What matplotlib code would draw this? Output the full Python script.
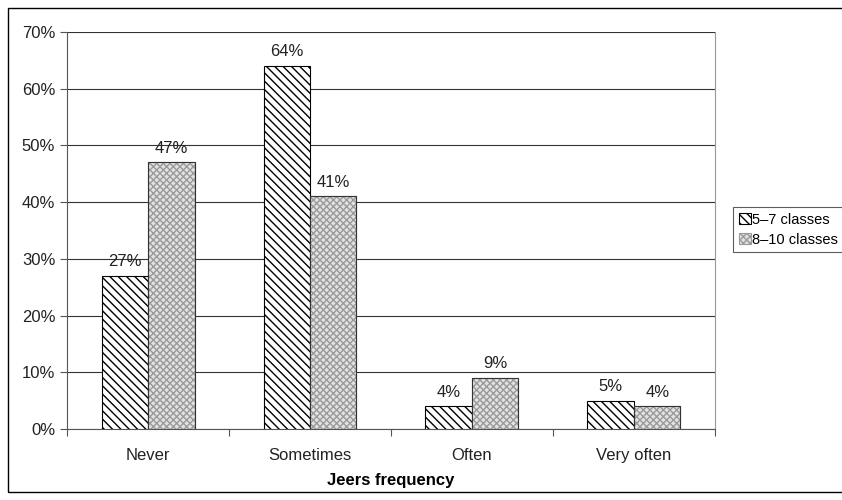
import matplotlib.pyplot as plt
import matplotlib.patches as mpatches
import numpy as np

plt.rcParams['font.family'] = ['Liberation Sans', 'DejaVu Sans']
plt.rcParams['hatch.linewidth'] = 1.0

categories = ['Never', 'Sometimes', 'Often', 'Very often']
classes_5_7 = [27, 64, 4, 5]
classes_8_10 = [47, 41, 9, 4]
series_names = ['5\u20137 classes', '8\u201310 classes']

fig = plt.figure(figsize=(8.42, 5.0), dpi=100)
ax = fig.add_axes([0.0796, 0.142, 0.7695, 0.794])

# outer frame of the chart area
fig.patches.append(mpatches.Rectangle((8 / 842, 8 / 500), 1.0, 484 / 500,
                                      transform=fig.transFigure, fill=False,
                                      edgecolor='black', linewidth=1.0))

x = np.arange(len(categories))
w = 0.287
b1 = ax.bar(x - w / 2, classes_5_7, w, facecolor='white', edgecolor='black',
            hatch='\\\\\\\\', linewidth=0.8, label=series_names[0], zorder=3)
b2 = ax.bar(x + w / 2, classes_8_10, w, facecolor='#e2e2e2', edgecolor='#9a9a9a',
            hatch='xxxxx', linewidth=0.8, label=series_names[1], zorder=3)
# dark outline over the light pattern
ax.bar(x + w / 2, classes_8_10, w, fill=False, edgecolor='#333333', linewidth=0.8, zorder=4)

for bars, vals in ((b1, classes_5_7), (b2, classes_8_10)):
    for r, v in zip(bars, vals):
        ax.text(r.get_x() + r.get_width() / 2, v + 1.2, f'{v}%', ha='center',
                va='bottom', fontsize=12, color='#222222')

ax.set_xlim(-0.5, 3.5)
ax.set_ylim(0, 70)
ax.set_yticks(range(0, 71, 10))
ax.set_yticklabels([f'{v}%' for v in range(0, 71, 10)], fontsize=12, color='#222222')
ax.set_xticks(np.arange(-0.5, 4, 1))
ax.set_xticklabels([])
ax.set_xticks(x, minor=True)
ax.set_xticklabels(categories, minor=True, fontsize=12, color='#222222')
ax.tick_params(axis='x', which='minor', length=0, pad=14)
ax.tick_params(axis='x', which='major', length=5, color='#555555')
ax.tick_params(axis='y', length=5, color='#555555')
ax.yaxis.grid(True, color='#333333', linewidth=0.8, zorder=0)
ax.set_axisbelow(True)
ax.spines['top'].set_visible(False)
ax.spines['right'].set_color('#999999')
ax.spines['left'].set_color('#555555')
ax.spines['bottom'].set_color('#555555')
ax.set_xlabel('Jeers frequency', fontsize=12, fontweight='bold', labelpad=7)

leg = ax.legend(handles=[b1, b2], loc='upper left', bbox_to_anchor=(733 / 842, 293 / 500),
                bbox_transform=fig.transFigure, frameon=True, fancybox=False,
                edgecolor='#333333', fontsize=10.5, handlelength=0.8, handleheight=0.8,
                handletextpad=0.1, borderpad=0.4, borderaxespad=0, labelspacing=0.4)
leg.get_frame().set_linewidth(0.8)

fig.savefig('out.png', dpi=100)
